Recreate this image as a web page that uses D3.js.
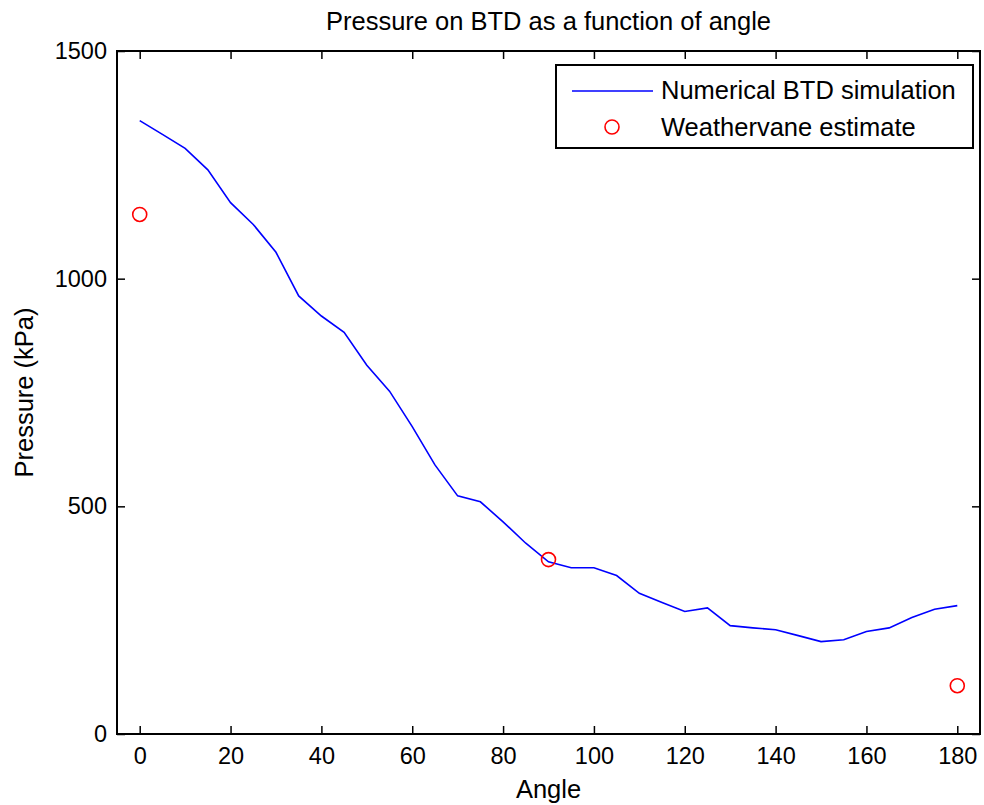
<!DOCTYPE html>
<html>
<head>
<meta charset="utf-8">
<script src="https://cdn.jsdelivr.net/npm/d3@7"></script>
<style>
  body { margin: 0; background: #fff; }
  svg text { font-family: "Liberation Sans", Arial, sans-serif; fill: #000; }
</style>
</head>
<body>
<script>
// simulation curve, every 5 degrees
const angles = d3.range(0, 181, 5);
const simPressure = [1347, 1317, 1286, 1239, 1167, 1119, 1058, 962, 918, 882,
                     810, 753, 675, 591, 523, 510, 466, 419, 378, 365,
                     365, 348, 309, 289, 269, 277, 238, 233, 229, 216,
                     203, 207, 225, 233, 256, 274, 282];
// weathervane estimates
const estAngles = [0, 90, 180];
const estPressure = [1141, 383, 106];

const xTicks = [0, 20, 40, 60, 80, 100, 120, 140, 160, 180];
const yTicks = [0, 500, 1000, 1500];

const width = 984, height = 805;
const margin = {left: 117, right: 4, top: 51, bottom: 71};

const svg = d3.select("body").append("svg")
    .attr("width", width)
    .attr("height", height);

const x = d3.scaleLinear().domain([-5, 185]).range([margin.left, width - margin.right]);
const y = d3.scaleLinear().domain([0, 1500]).range([height - margin.bottom, margin.top]);

const x0 = x.range()[0], x1 = x.range()[1], y0 = y.range()[0], y1 = y.range()[1];

//axes with inward ticks
svg.append("g")
    .attr("transform", "translate(0," + y0 + ")")
    .call(d3.axisBottom(x).tickValues(xTicks).tickSizeInner(-8).tickSizeOuter(0).tickPadding(13).tickFormat(d3.format("d")))
    .call(g => g.select(".domain").remove());
svg.append("g")
    .attr("transform", "translate(0," + y1 + ")")
    .call(d3.axisTop(x).tickValues(xTicks).tickSizeInner(-8).tickSizeOuter(0).tickFormat(""))
    .call(g => g.select(".domain").remove());
svg.append("g")
    .attr("transform", "translate(" + x0 + ",0)")
    .call(d3.axisLeft(y).tickValues(yTicks).tickSizeInner(-8).tickSizeOuter(0).tickPadding(10).tickFormat(d3.format("d")))
    .call(g => g.select(".domain").remove());
svg.append("g")
    .attr("transform", "translate(" + x1 + ",0)")
    .call(d3.axisRight(y).tickValues(yTicks).tickSizeInner(-8).tickSizeOuter(0).tickFormat(""))
    .call(g => g.select(".domain").remove());

svg.selectAll(".tick line").attr("stroke", "#000").attr("stroke-width", 1.5);
svg.selectAll(".tick text").style("font-size", "23.5px");

//plot box
svg.append("rect")
    .attr("x", x0).attr("y", y1)
    .attr("width", x1 - x0).attr("height", y0 - y1)
    .attr("fill", "none").attr("stroke", "#000").attr("stroke-width", 2);

const line = d3.line()
    .x((d, i) => x(angles[i]))
    .y(d => y(d));

svg.append("path")
    .datum(simPressure)
    .attr("d", line)
    .attr("fill", "none")
    .attr("stroke", "#0000ff")
    .attr("stroke-width", 1.6);

svg.selectAll(".est")
    .data(estPressure)
    .enter()
    .append("circle")
    .attr("class", "est")
    .attr("cx", (d, i) => x(estAngles[i]))
    .attr("cy", d => y(d))
    .attr("r", 7)
    .attr("fill", "none")
    .attr("stroke", "#ff0000")
    .attr("stroke-width", 1.6);

//title and labels
svg.append("text")
    .attr("x", (x0 + x1) / 2).attr("y", 30)
    .attr("text-anchor", "middle")
    .style("font-size", "25.5px")
    .text("Pressure on BTD as a function of angle");

svg.append("text")
    .attr("x", (x0 + x1) / 2).attr("y", 798)
    .attr("text-anchor", "middle")
    .style("font-size", "25.5px")
    .text("Angle");

svg.append("text")
    .attr("transform", "translate(33," + ((y0 + y1) / 2) + ") rotate(-90)")
    .attr("text-anchor", "middle")
    .style("font-size", "25.5px")
    .text("Pressure (kPa)");

//legend
const legend = svg.append("g");
legend.append("rect")
    .attr("x", 556).attr("y", 65)
    .attr("width", 417).attr("height", 83)
    .attr("fill", "#fff").attr("stroke", "#000").attr("stroke-width", 2);
legend.append("line")
    .attr("x1", 572).attr("x2", 653)
    .attr("y1", 91).attr("y2", 91)
    .attr("stroke", "#0000ff").attr("stroke-width", 1.6);
legend.append("circle")
    .attr("cx", 612).attr("cy", 127).attr("r", 7)
    .attr("fill", "none").attr("stroke", "#ff0000").attr("stroke-width", 1.6);
legend.append("text")
    .attr("x", 661).attr("y", 99)
    .style("font-size", "25.5px")
    .text("Numerical BTD simulation");
legend.append("text")
    .attr("x", 661).attr("y", 136)
    .style("font-size", "25.5px")
    .text("Weathervane estimate");
</script>
</body>
</html>
